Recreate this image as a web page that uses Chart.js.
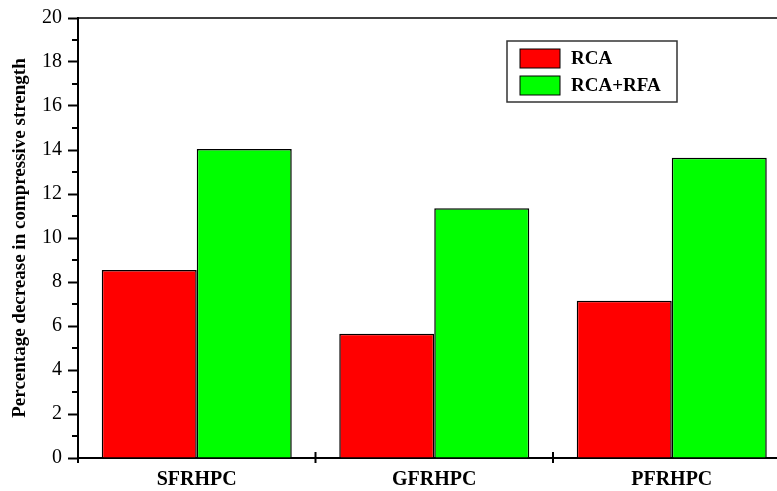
<!DOCTYPE html>
<html>
<head>
<meta charset="utf-8">
<script src="https://cdn.jsdelivr.net/npm/chart.js@4"></script>
<style>
  html, body { margin: 0; padding: 0; background: #fff; overflow: hidden; }
  canvas { display: block; }
</style>
</head>
<body>
<canvas id="chart1" width="800" height="491"></canvas>
<script>
const categories = ['SFRHPC', 'GFRHPC', 'PFRHPC']
const seriesNames = ['RCA', 'RCA+RFA']
const rcaValues = [8.55, 5.65, 7.15]
const rcaRfaValues = [14.05, 11.35, 13.65]
const yMin = 0
const yMax = 20
const yStep = 2
const yTitle = 'Percentage decrease in compressive strength'

const serif = "'Liberation Serif', 'Times New Roman', serif"

const colors = {
  fills: ['#ff0000', '#00ff00'],
  edge: '#000'
}


// frame top/right, minor ticks, crossing x ticks and the boxed legend
const frame = {
  id: 'frame',
  afterDraw(chart) {
    const { ctx, chartArea: a, scales: { x, y } } = chart
    const line = (x1, y1, x2, y2) => {
      ctx.beginPath()
      ctx.moveTo(x1, y1)
      ctx.lineTo(x2, y2)
      ctx.stroke()
    }

    ctx.save()
    ctx.strokeStyle = '#000'
    ctx.lineWidth = 1.5
    line(a.left, a.top, a.right, a.top)
    line(a.right, a.top, a.right, a.bottom)

    ctx.lineWidth = 2
    for (let v = yMin + yStep / 2; v < yMax; v += yStep) {
      const py = y.getPixelForValue(v)
      line(a.left - 6, py, a.left, py)
    }
    for (let i = 0; i <= categories.length; i++) {
      const px = x.getPixelForValue(i - 0.5)
      line(px, a.bottom - 6, px, a.bottom + 5)
    }

    // legend
    ctx.lineWidth = 1.5
    ctx.strokeStyle = '#333'
    ctx.strokeRect(507, 41, 170, 61)
    ctx.font = 'bold 19px ' + serif
    ctx.textBaseline = 'middle'
    ctx.textAlign = 'left'
    chart.data.datasets.forEach((ds, i) => {
      const top = 49 + i * 27
      ctx.fillStyle = ds.backgroundColor
      ctx.fillRect(520, top, 40, 19)
      ctx.strokeStyle = '#000'
      ctx.lineWidth = 1
      ctx.strokeRect(520, top, 40, 19)
      ctx.fillStyle = '#000'
      ctx.fillText(ds.label, 571, top + 10)
    })
    ctx.restore()
  }
}


const data = {
  labels: categories,
  datasets: [rcaValues, rcaRfaValues].map((vals, i) => ({
    label: seriesNames[i],
    data: vals,
    backgroundColor: colors.fills[i],
    borderColor: colors.edge,
    borderWidth: 1.5,
    categoryPercentage: 0.8,
    barPercentage: 1
  }))
}

const options = {
  responsive: false,
  animation: false,
  layout: { padding: { top: 17, right: 9.5, left: 0, bottom: 0 } },
  plugins: {
    legend: { display: false },
    tooltip: { enabled: false }
  },
  scales: {
    x: {
      grid: { display: false },
      border: { color: '#000', width: 2 },
      ticks: { color: '#000', padding: 2, font: { family: serif, size: 20, weight: 'bold' } },
      afterFit: s => { s.height = 33 }
    },
    y: {
      min: yMin,
      max: yMax,
      ticks: { stepSize: yStep, color: '#000', padding: 6, font: { family: serif, size: 20 } },
      grid: { drawOnChartArea: false, tickLength: 10, tickWidth: 2, tickColor: '#000' },
      border: { color: '#000', width: 2 },
      title: {
        display: true,
        text: yTitle,
        color: '#000',
        font: { family: serif, size: 19, weight: 'bold' },
        padding: { top: 9, bottom: 0 }
      },
      afterFit: s => { s.width = 78 }
    }
  }
}

new Chart('chart1', {
  type: 'bar',
  data,
  options,
  plugins: [frame]
})
</script>
</body>
</html>
